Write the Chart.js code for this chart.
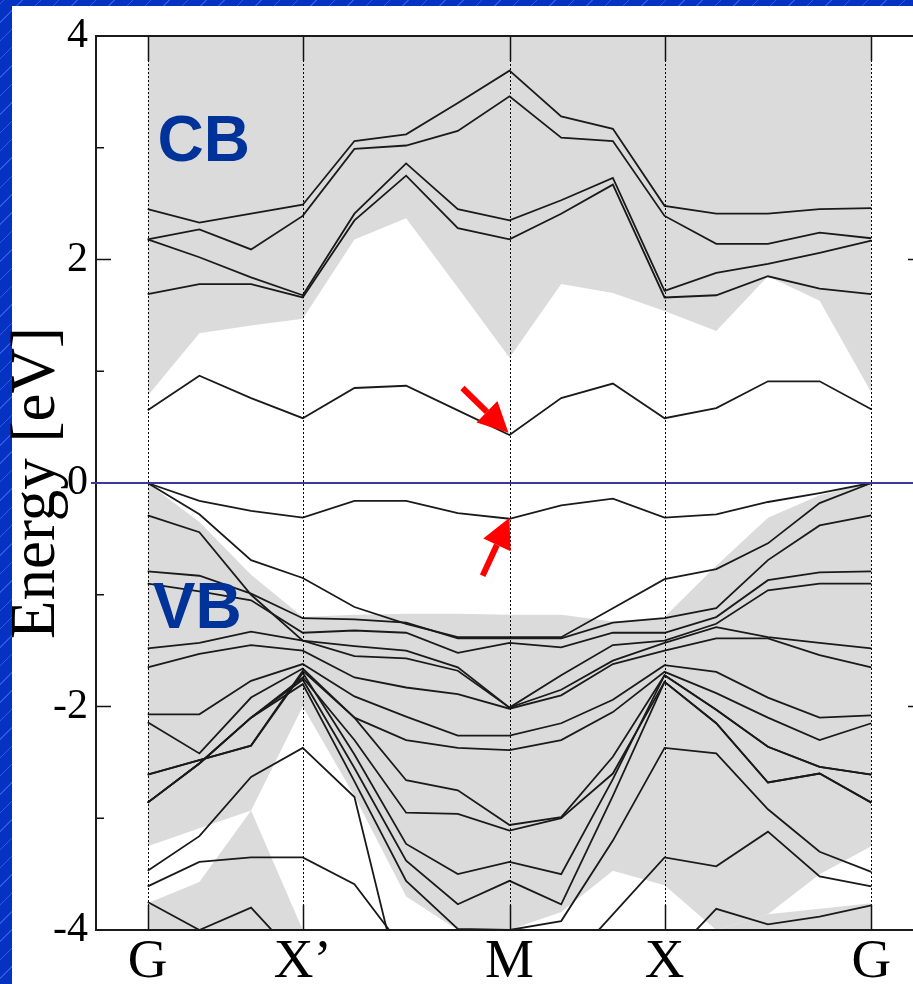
<!DOCTYPE html>
<html>
<head>
<meta charset="utf-8">
<script src="https://cdn.jsdelivr.net/npm/chart.js@4.4.0/dist/chart.umd.min.js"></script>
<style>
  html, body { margin: 0; padding: 0; }
  body {
    width: 913px; height: 984px; overflow: hidden; position: relative;
    background-color: #0532c2;
    background-image: repeating-linear-gradient(-45deg, rgba(0,0,0,0) 0px, rgba(0,0,0,0) 12px, rgba(110,150,255,0.4) 12px, rgba(110,150,255,0.4) 13px);
  }
  #panel { position: absolute; left: 12px; top: 6px; right: 0; bottom: 0; background: #fff; }
  #bands { position: absolute; left: 0; top: 0; width: 940px; height: 1000px; }
</style>
</head>
<body>
<div id="panel"></div>
<canvas id="bands" width="940" height="1000"></canvas>
<script>
// k-path: 15 sampled points, high-symmetry points at 0, 3, 7, 10, 14
const kPoints = [0, 1, 2, 3, 4, 5, 6, 7, 8, 9, 10, 11, 12, 13, 14];
const kTicks = [0, 3, 7, 10, 14];
const kLabels = ['G', 'X\u2019', 'M', 'X', 'G'];
const yMinorTicks = [3, 1, -1, -3];

// conduction bands (eV)
const cb1 = [2.45, 2.33, 2.41, 2.49, 3.06, 3.12, 3.40, 3.69, 3.28, 3.17, 2.48, 2.41, 2.41, 2.45, 2.46];
const cb2 = [2.18, 2.27, 2.09, 2.39, 2.99, 3.02, 3.15, 3.46, 3.09, 3.06, 2.39, 2.14, 2.14, 2.24, 2.19];
const cb3 = [2.18, 2.02, 1.84, 1.68, 2.41, 2.86, 2.45, 2.35, 2.53, 2.73, 1.72, 1.88, 1.96, 2.06, 2.17];
const cb4 = [1.69, 1.78, 1.78, 1.66, 2.35, 2.75, 2.28, 2.18, 2.41, 2.67, 1.66, 1.68, 1.85, 1.74, 1.69];
const gapCB = [0.65, 0.96, 0.76, 0.58, 0.85, 0.87, 0.65, 0.43, 0.76, 0.89, 0.58, 0.67, 0.91, 0.91, 0.66];

// valence bands (eV)
const vb1 = [0, -0.16, -0.25, -0.31, -0.16, -0.16, -0.27, -0.32, -0.2, -0.14, -0.31, -0.28, -0.17, -0.09, 0];
const vb2 = [0, -0.28, -0.69, -0.85, -1.11, -1.26, -1.38, -1.38, -1.38, -1.12, -0.86, -0.77, -0.54, -0.18, 0];
const vb3 = [-0.79, -0.83, -0.99, -1.21, -1.22, -1.25, -1.39, -1.39, -1.39, -1.25, -1.21, -1.12, -0.69, -0.38, -0.29];
const vb4 = [-0.9, -0.97, -1.05, -1.34, -1.32, -1.34, -1.52, -1.43, -1.47, -1.34, -1.34, -1.2, -0.87, -0.8, -0.79];
const vb5 = [-0.29, -0.44, -1.0, -1.41, -1.46, -1.5, -1.65, -2.01, -1.72, -1.45, -1.41, -1.26, -0.96, -0.9, -0.9];
const vb6 = [-1.48, -1.43, -1.33, -1.41, -1.55, -1.57, -1.68, -2.01, -1.85, -1.59, -1.43, -1.29, -1.38, -1.43, -1.48];
const vb7 = [-1.65, -1.53, -1.45, -1.5, -1.74, -1.83, -1.89, -2.02, -1.9, -1.62, -1.5, -1.39, -1.39, -1.54, -1.65];
const vb8 = [-2.07, -2.07, -1.77, -1.62, -1.91, -2.09, -2.26, -2.26, -2.15, -1.94, -1.63, -1.69, -1.92, -2.1, -2.08];
const vb9 = [-2.14, -2.42, -1.92, -1.66, -2.1, -2.3, -2.37, -2.39, -2.3, -2.05, -1.69, -1.88, -2.1, -2.3, -2.15];
const vb10 = [-2.61, -2.48, -2.35, -1.68, -2.1, -2.66, -2.75, -3.06, -2.99, -2.45, -1.72, -2.03, -2.36, -2.54, -2.61];
const vb11 = [-2.86, -2.51, -2.1, -1.74, -2.3, -2.95, -2.96, -3.11, -3.0, -2.6, -1.78, -2.15, -2.68, -2.6, -2.86];
const vb12 = [-2.61, -2.48, -2.35, -1.7, -2.43, -3.23, -3.5, -3.39, -3.5, -2.65, -1.72, -2.03, -2.36, -2.54, -2.61];
const vb13 = [-2.86, -2.51, -2.1, -1.76, -2.55, -3.38, -3.77, -3.56, -3.77, -2.8, -1.78, -2.15, -2.68, -2.6, -2.86];
const vb14 = [-2.86, -2.51, -2.1, -1.8, -2.67, -3.56, -3.99, -4.0, -3.92, -3.2, -2.37, -2.42, -2.92, -3.3, -3.48];
const vb15 = [-3.47, -3.16, -2.63, -2.37, -2.81, -4.7, -4.8, -4.8, -4.37, -3.86, -3.35, -3.43, -3.12, -3.52, -3.61];
const vb16 = [-3.61, -3.39, -3.35, -3.35, -3.59, -4.2, -4.8, -4.8, -4.8, -4.8, -4.3, -3.81, -3.95, -3.88, -3.78];
const vb17 = [-3.75, -4.0, -3.8, -4.3, -4.8, -4.8, -4.8, -4.8, -4.8, -4.8, -4.8, -4.8, -4.8, -4.8, -4.8];

// projected bulk bands (grey areas)
const cbShadeBottom = [0.78, 1.34, 1.41, 1.47, 2.18, 2.37, 1.75, 1.12, 1.78, 1.7, 1.54, 1.36, 1.85, 1.63, 0.81];
const vbShadeTop = [0, -0.35, -0.82, -1.2, -1.18, -1.17, -1.17, -1.18, -1.18, -1.24, -1.2, -0.74, -0.31, -0.11, 0];
const vbShadeBottom = [-3.25, -3.09, -2.93, -2.0, -2.8, -3.7, -4.0, -4.0, -3.84, -3.47, -3.6, -4.0, -3.86, -3.5, -3.25];
const pocketLeftK = [0, 1, 2, 3];
const pocketLeft = [-3.76, -3.57, -2.93, -4.0];
const pocketRightK = [11, 12, 13, 14];
const pocketRight = [-4.0, -3.86, -3.81, -3.76];

// annotations (k, eV)
const cbLabelAt = [0.19, 2.88];
const vbLabelAt = [0.1, -1.3];
const arrows = [
  { from: [6.09, 0.85], to: [6.98, 0.45] },
  { from: [6.48, -0.83], to: [7.0, -0.31] }
];

const bands = [cb1, cb2, cb3, cb4, gapCB, vb1, vb2, vb3, vb4, vb5, vb6, vb7, vb8, vb9, vb10, vb11, vb12, vb13, vb14, vb15, vb16, vb17];

const shade = '#dbdbdb';
const serif = '"Liberation Serif", "Times New Roman", serif';

function toPoints(vals, ks) {
  ks = ks || kPoints;
  return vals.map((e, i) => ({ x: ks[i], y: e }));
}

var datasets = [
  { data: toPoints(cbShadeBottom), fill: 'end', backgroundColor: shade, borderColor: 'rgba(0,0,0,0)', pointRadius: 0, order: 10 },
  { data: toPoints(vbShadeBottom), fill: false, borderColor: 'rgba(0,0,0,0)', pointRadius: 0, order: 10 },
  { data: toPoints(vbShadeTop), fill: '-1', backgroundColor: shade, borderColor: 'rgba(0,0,0,0)', pointRadius: 0, order: 10 },
  { data: toPoints(pocketLeft, pocketLeftK), fill: 'start', backgroundColor: shade, borderColor: 'rgba(0,0,0,0)', pointRadius: 0, order: 10 },
  { data: toPoints(pocketRight, pocketRightK), fill: 'start', backgroundColor: shade, borderColor: 'rgba(0,0,0,0)', pointRadius: 0, order: 10 }
];
bands.forEach(function (b) {
  datasets.push({ data: toPoints(b), fill: false, borderColor: '#1a1a1a', borderWidth: 1.8, pointRadius: 0, tension: 0, order: 0 });
});

function seg(ctx, x1, y1, x2, y2) {
  ctx.beginPath(); ctx.moveTo(x1, y1); ctx.lineTo(x2, y2); ctx.stroke();
}

// frame, ticks, symmetry lines, Fermi level, labels and arrows
const decorations = {
  id: 'decorations',
  afterDatasetsDraw(chart) {
    const ctx = chart.ctx, a = chart.chartArea, x = chart.scales.x, y = chart.scales.y;
    ctx.save();

    // dotted lines at high-symmetry points
    ctx.strokeStyle = '#000'; ctx.lineWidth = 1; ctx.setLineDash([2, 2]);
    kTicks.forEach(function (k) {
      var px = Math.round(x.getPixelForValue(k)) + 0.5;
      seg(ctx, px, a.top, px, a.bottom);
    });
    ctx.setLineDash([]);

    // solid ticks at top and bottom
    ctx.lineWidth = 1.5; ctx.strokeStyle = '#111';
    kTicks.forEach(function (k) {
      var px = Math.round(x.getPixelForValue(k)) + 0.5;
      seg(ctx, px, a.top, px, a.top + 25);
      seg(ctx, px, a.bottom, px, a.bottom - 25);
    });

    // energy ticks, inward on both sides
    y.ticks.forEach(function (t) {
      var py = y.getPixelForValue(t.value);
      seg(ctx, a.left, py, a.left + 15, py);
      seg(ctx, a.right, py, a.right - 15, py);
    });
    yMinorTicks.forEach(function (v) {
      var py = y.getPixelForValue(v);
      seg(ctx, a.left, py, a.left + 8, py);
      seg(ctx, a.right, py, a.right - 8, py);
    });

    // frame
    ctx.lineWidth = 2; ctx.strokeStyle = '#1a1a1a';
    ctx.strokeRect(a.left, a.top, a.right - a.left, a.bottom - a.top);

    // Fermi level
    var y0 = y.getPixelForValue(0);
    ctx.strokeStyle = '#3a3a9c'; ctx.lineWidth = 2;
    seg(ctx, a.left - 5, y0, a.right, y0);

    // CB / VB labels
    ctx.fillStyle = '#003399';
    ctx.font = 'bold 64px "Liberation Sans", Arial, sans-serif';
    ctx.textBaseline = 'alphabetic'; ctx.textAlign = 'left';
    ctx.fillText('CB', x.getPixelForValue(cbLabelAt[0]), y.getPixelForValue(cbLabelAt[1]));
    ctx.fillText('VB', x.getPixelForValue(vbLabelAt[0]), y.getPixelForValue(vbLabelAt[1]));

    // red arrows
    ctx.strokeStyle = '#ff0000'; ctx.fillStyle = '#ff0000'; ctx.lineWidth = 6;
    arrows.forEach(function (ar) {
      var x1 = x.getPixelForValue(ar.from[0]), y1 = y.getPixelForValue(ar.from[1]);
      var x2 = x.getPixelForValue(ar.to[0]), y2 = y.getPixelForValue(ar.to[1]);
      var ang = Math.atan2(y2 - y1, x2 - x1), hl = 30, hw = 15;
      var bx = x2 - hl * Math.cos(ang), by = y2 - hl * Math.sin(ang);
      seg(ctx, x1, y1, bx, by);
      ctx.beginPath();
      ctx.moveTo(x2, y2);
      ctx.lineTo(bx + hw * Math.sin(ang), by - hw * Math.cos(ang));
      ctx.lineTo(bx - hw * Math.sin(ang), by + hw * Math.cos(ang));
      ctx.closePath(); ctx.fill();
    });
    ctx.restore();
  }
};

new Chart(document.getElementById('bands'), {
  type: 'line',
  data: { datasets: datasets },
  options: {
    responsive: false,
    animation: false,
    devicePixelRatio: 1,
    events: [],
    layout: { padding: { top: 36, right: 17, left: 0, bottom: 0 } },
    plugins: { legend: { display: false }, tooltip: { enabled: false } },
    scales: {
      x: {
        type: 'linear', min: -1, max: 15,
        afterBuildTicks: function (s) { s.ticks = kTicks.map(function (v) { return { value: v }; }); },
        afterFit: function (s) { s.height = 70; },
        grid: { display: false, drawTicks: false },
        border: { display: false },
        ticks: {
          autoSkip: false, maxRotation: 0, minRotation: 0, padding: 0, color: '#000',
          font: { family: serif, size: 55 },
          callback: function (v, i) { return kLabels[i]; }
        }
      },
      y: {
        min: -4, max: 4,
        afterFit: function (s) { s.width = 96; },
        grid: { display: false, drawTicks: false },
        border: { display: false },
        ticks: { stepSize: 2, padding: 8, color: '#000', font: { family: serif, size: 42 } },
        title: { display: true, text: 'Energy [eV]', color: '#000', padding: 0, font: { family: serif, size: 63 } }
      }
    }
  },
  plugins: [decorations]
});
</script>
</body>
</html>
